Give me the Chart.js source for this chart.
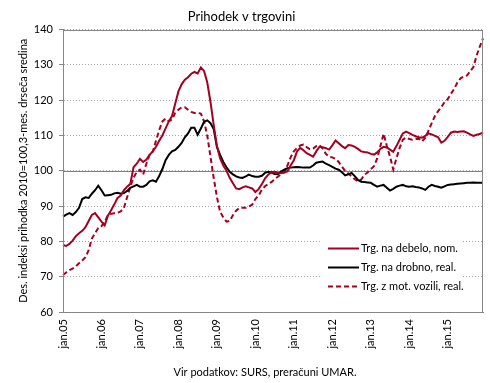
<!DOCTYPE html>
<html>
<head>
<meta charset="utf-8">
<script src="https://cdn.jsdelivr.net/npm/chart.js@4/dist/chart.umd.min.js"></script>
<style>
html,body{margin:0;padding:0;background:#fff;}
#wrap{width:490px;height:383px;position:relative;}
</style>
</head>
<body>
<div id="wrap"><canvas id="c" width="490" height="383"></canvas></div>
<script>
// ---- data ----
const years = ['05','06','07','08','09','10','11','12','13','14','15'];
const monthNames = ['jan','feb','mar','apr','maj','jun','jul','avg','sep','okt','nov','dec'];
const tickLabels = ['jan.05','jan.06','jan.07','jan.08','jan.09','jan.10','jan.11','jan.12','jan.13','jan.14','jan.15'];
const categories = [];
years.forEach(y => monthNames.forEach(m => categories.push(m + '.' + y)));

const seriesNames = ['Trg. na debelo, nom.', 'Trg. na drobno, real.', 'Trg. z mot. vozili, real.'];

const wholesale = [
  79.0, 78.7, 79.3, 80.2, 81.5, 82.3, 83.0, 84.0, 85.8, 87.5, 88.0, 86.8,
  85.6, 84.5, 87.3, 88.8, 90.5, 92.3, 93.0, 94.5, 95.5, 96.3, 101.0, 102.0,
  103.4, 102.5, 103.2, 104.5, 105.5, 106.8, 108.5, 110.0, 112.0, 114.0, 115.5, 119.0,
  122.5, 124.5, 125.8, 126.5, 127.5, 128.0, 127.6, 129.3, 128.3, 125.0, 119.5, 113.0,
  107.0, 103.5, 101.5, 100.0, 98.0, 96.5, 95.0, 94.8, 95.3, 95.6, 95.3, 95.0,
  94.0, 94.8, 96.2, 97.8, 98.9, 99.6, 99.7, 99.4, 99.3, 99.5, 99.8, 101.5,
  103.0, 105.5, 106.5, 105.8, 105.0, 104.5, 104.0, 105.5, 106.8, 106.7, 106.4, 106.0,
  107.2, 108.6, 107.8, 107.0, 106.4, 107.3, 107.2, 106.8, 106.2, 105.5, 105.3, 105.2,
  104.8, 104.6, 105.2, 106.2, 106.8, 106.6, 106.0, 105.4, 107.0, 108.8, 110.6, 111.1,
  110.7, 110.2, 109.8, 109.5, 109.4, 109.9, 110.6, 110.3, 109.9, 109.5, 108.0, 108.5,
  109.6, 110.8, 111.1, 111.0, 111.1, 111.2, 110.8, 110.3, 109.9, 110.2, 110.4, 110.9
];

const retail = [
  87.0, 87.6, 88.0, 87.5, 88.3, 89.5, 92.0, 92.5, 92.3, 93.5, 94.5, 95.8,
  94.5, 93.0, 93.1, 93.2, 93.6, 93.8, 93.5, 93.7, 94.3, 95.2, 95.6, 96.0,
  95.5, 95.5, 96.0, 97.0, 97.3, 96.9, 98.5, 100.5, 103.0, 104.5, 105.5, 105.9,
  106.8, 107.9, 109.5, 110.6, 112.2, 112.2, 110.2, 112.0, 113.9, 114.3, 113.5, 111.8,
  106.8, 104.5, 102.5, 101.0, 99.7, 99.0, 98.4, 98.1, 98.0, 98.4, 98.9, 98.5,
  98.3, 98.3, 98.6, 99.4, 99.7, 99.5, 99.1, 99.0, 99.8, 100.3, 100.7, 100.9,
  101.0, 101.1, 101.0, 100.9, 100.9, 100.9, 101.5, 102.3, 102.5, 102.6, 102.0, 101.6,
  101.1, 100.6, 100.3, 99.6, 98.7, 99.0, 99.4, 98.5, 97.4, 96.9, 96.8, 96.7,
  96.6, 96.0, 95.5, 95.8, 96.0, 95.2, 94.4, 94.9, 95.5, 95.8, 96.0, 95.6,
  95.5, 95.6, 95.4, 95.3, 95.0, 94.6, 95.5, 96.0, 95.7, 95.5, 95.2, 95.6,
  96.0, 96.1, 96.2, 96.3, 96.4, 96.5, 96.6, 96.6, 96.7, 96.6, 96.6, 96.6
];

const motorVehicles = [
  70.5, 71.2, 71.9, 72.3, 72.9, 73.8, 74.6, 75.5, 77.5, 80.8, 82.3, 83.8,
  84.3, 85.5, 87.5, 87.8, 88.0, 88.1, 88.5, 89.5, 92.5, 95.5, 98.0, 99.7,
  100.3, 98.9, 102.0, 104.5, 105.4, 108.5, 111.5, 114.0, 114.8, 114.0, 114.5, 116.4,
  117.3, 118.0, 118.0, 117.3, 116.7, 116.4, 116.4, 116.2, 114.0, 110.0, 104.0, 98.0,
  92.6, 88.4, 86.8, 85.6, 85.8, 87.4, 88.7, 89.5, 89.5, 89.5, 89.9, 90.4,
  92.0, 93.0, 94.6, 95.6, 96.3, 96.8, 97.6, 98.3, 99.0, 99.6, 101.5, 103.8,
  105.5, 106.5, 107.2, 107.4, 106.7, 106.1, 106.3, 107.0, 107.3, 106.3, 104.8, 104.0,
  103.8, 103.4, 102.5, 101.2, 100.0, 99.2, 98.4, 97.6, 97.0, 97.5, 98.9, 99.5,
  100.5, 101.3, 103.5, 107.0, 110.5, 107.0, 104.0, 100.4, 103.5, 106.5, 108.8, 109.4,
  109.0, 108.8, 109.0, 109.1, 108.3, 109.4, 111.4, 113.5, 115.5, 116.9, 118.0, 119.5,
  120.3, 121.8, 123.2, 125.0, 126.2, 126.7, 127.0, 128.2, 129.4, 132.6, 135.2, 137.5
];

const yTicks = [60, 70, 80, 90, 100, 110, 120, 130, 140];

// ---- style ----
const FONT = "Lato, 'Open Sans', sans-serif";
const RED = '#A50021';

const overlay = {
  id: 'overlay',
  beforeDatasetsDraw(chart) {
    const {ctx, chartArea: a, scales: {y}} = chart;
    ctx.save();
    const y100 = Math.round(y.getPixelForValue(100)) + 0.5;
    ctx.strokeStyle = '#808080';
    ctx.lineWidth = 1;
    ctx.beginPath();
    ctx.moveTo(a.left, y100); ctx.lineTo(a.right, y100);
    ctx.stroke();
    ctx.restore();
  },
  afterDatasetsDraw(chart) {
    const {ctx, chartArea: a} = chart;
    ctx.save();
    // legend box inside plot
    ctx.fillStyle = '#ffffff';
    ctx.fillRect(322, 236, 141, 61);
    const rows = [248, 267, 286];
    chart.data.datasets.forEach((ds, i) => {
      ctx.strokeStyle = ds.borderColor;
      ctx.lineWidth = ds.borderWidth;
      ctx.setLineDash(ds.borderDash || []);
      ctx.beginPath();
      ctx.moveTo(328, rows[i] + 0.5); ctx.lineTo(359, rows[i] + 0.5);
      ctx.stroke();
      ctx.setLineDash([]);
      ctx.fillStyle = '#000';
      ctx.font = '11px ' + FONT;
      ctx.textBaseline = 'middle';
      ctx.textAlign = 'left';
      ctx.fillText(ds.label, 361, rows[i]);
    });
    // plot border
    ctx.strokeStyle = '#868686';
    ctx.lineWidth = 1;
    ctx.strokeRect(Math.round(a.left) + 0.5, Math.round(a.top) + 0.5,
                   Math.round(a.right - a.left) - 1, Math.round(a.bottom - a.top));
    ctx.restore();
  },
  afterDraw(chart) {
    const {ctx} = chart;
    ctx.save();
    ctx.fillStyle = '#000';
    ctx.font = '11px ' + FONT;
    ctx.textAlign = 'center';
    ctx.textBaseline = 'middle';
    ctx.fillText('Vir podatkov: SURS, preračuni UMAR.', 265, 372);
    ctx.restore();
  }
};

new Chart(document.getElementById('c'), {
  type: 'line',
  data: {
    labels: categories,
    datasets: [
      { label: seriesNames[0], data: wholesale, borderColor: RED, borderWidth: 2, pointRadius: 0, tension: 0, fill: false },
      { label: seriesNames[1], data: retail, borderColor: '#000000', borderWidth: 2, pointRadius: 0, tension: 0, fill: false },
      { label: seriesNames[2], data: motorVehicles, borderColor: RED, borderWidth: 2, borderDash: [5, 3], pointRadius: 0, tension: 0, fill: false }
    ]
  },
  options: {
    responsive: false,
    animation: false,
    devicePixelRatio: 1,
    layout: { padding: { left: 0, right: 7, top: 0, bottom: 0 } },
    plugins: {
      legend: { display: false },
      tooltip: { enabled: false },
      title: {
        display: true,
        text: 'Prihodek v trgovini',
        color: '#000',
        font: { family: FONT, size: 13, weight: 'normal', lineHeight: 1.2 },
        padding: { top: 9, bottom: 5 }
      }
    },
    scales: {
      x: {
        type: 'category',
        offset: false,
        grid: { display: false, drawTicks: false },
        border: { display: true, color: '#868686' },
        ticks: {
          autoSkip: false,
          maxRotation: 90,
          minRotation: 90,
          padding: 7,
          color: '#000',
          font: { family: FONT, size: 11 },
          callback: function(val, idx) {
            const lab = this.getLabelForValue(val);
            return lab.startsWith('jan.') ? tickLabels[years.indexOf(lab.slice(4))] : '';
          }
        },
        afterFit: s => { s.height = 71; s.paddingRight = 0; s.paddingLeft = 0; }
      },
      y: {
        min: 60,
        max: 140,
        afterBuildTicks: s => { s.ticks = yTicks.map(v => ({ value: v })); },
        grid: { color: '#a6a6a6', lineWidth: 1, drawTicks: true, tickLength: 4, tickColor: '#868686' },
        border: { display: true, color: '#868686', dash: [1, 2] },
        ticks: { padding: 6, color: '#000', font: { family: FONT, size: 11 } },
        title: {
          display: true,
          text: 'Des. indeksi prihodka 2010=100,3-mes. drseča sredina',
          color: '#000',
          font: { family: FONT, size: 11 },
          padding: { top: 17, bottom: 0 }
        },
        afterFit: s => { s.width = 63; }
      }
    }
  },
  plugins: [overlay]
});
</script>
</body>
</html>
